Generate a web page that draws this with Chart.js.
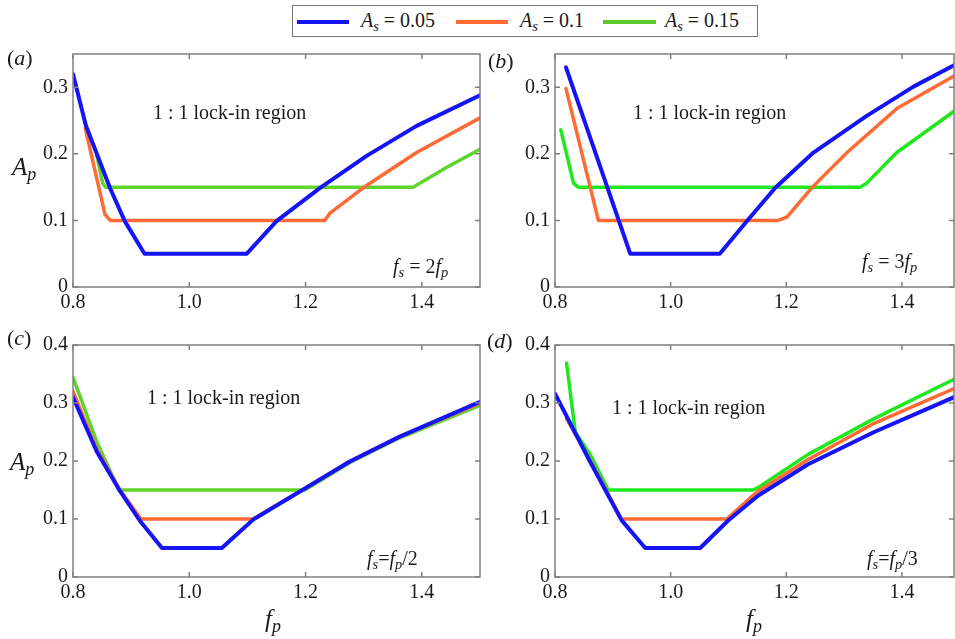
<!DOCTYPE html>
<html>
<head>
<meta charset="utf-8">
<script src="https://cdn.jsdelivr.net/npm/chart.js@4.4.1/dist/chart.umd.min.js"></script>
<style>
  html, body { margin: 0; padding: 0; background: #fff; }
  body { position: relative; width: 955px; height: 639px; overflow: hidden;
         font-family: "Liberation Serif", "Times New Roman", Times, "DejaVu Serif", serif;
         color: #1a1a1a; }
  canvas { position: absolute; }
  .t { position: absolute; white-space: nowrap; line-height: 1; font-size: 20px; }
  .t i { font-style: italic; }
  .t sub { font-size: 0.72em; vertical-align: -0.28em; line-height: 0; }
  .big { font-size: 25px; }
  .lab { font-size: 22px; }
  #legend { position: absolute; left: 292px; top: 5px; width: 464px; height: 30px;
            border: 1.5px solid #777; }
  .sw { position: absolute; height: 4px; top: 14px; }
</style>
</head>
<body>

<div id="legend">
  <div class="sw" style="left:4px;width:52px;background:#1414f5"></div>
  <div class="t" style="left:68px;top:4px"><i>A</i><sub><i>s</i></sub> = 0.05</div>
  <div class="sw" style="left:163px;width:52px;background:#ff6a35"></div>
  <div class="t" style="left:227px;top:4px"><i>A</i><sub><i>s</i></sub> = 0.1</div>
  <div class="sw" style="left:310px;width:53px;background:#5cc82a"></div>
  <div class="t" style="left:372px;top:4px"><i>A</i><sub><i>s</i></sub> = 0.15</div>
</div>

<canvas id="ca"></canvas>
<canvas id="cb"></canvas>
<canvas id="cc"></canvas>
<canvas id="cd"></canvas>

<div class="t lab" style="left:7px;top:47px">(<i>a</i>)</div>
<div class="t lab" style="left:488px;top:50px">(<i>b</i>)</div>
<div class="t lab" style="left:7px;top:327px">(<i>c</i>)</div>
<div class="t lab" style="left:487px;top:330px">(<i>d</i>)</div>

<div class="t big" style="left:12px;top:154px"><i>A</i><sub><i>p</i></sub></div>
<div class="t big" style="left:10px;top:449px"><i>A</i><sub><i>p</i></sub></div>
<div class="t big" style="left:265px;top:606px"><i>f</i><sub><i>p</i></sub></div>
<div class="t big" style="left:746px;top:606px"><i>f</i><sub><i>p</i></sub></div>

<div class="t" style="left:153px;top:102px">1 : 1 lock-in region</div>
<div class="t" style="left:633px;top:102px">1 : 1 lock-in region</div>
<div class="t" style="left:147px;top:387px">1 : 1 lock-in region</div>
<div class="t" style="left:612px;top:397px">1 : 1 lock-in region</div>

<div class="t" style="left:393px;top:256px"><i>f</i><sub><i>s</i></sub> = 2<i>f</i><sub><i>p</i></sub></div>
<div class="t" style="left:862px;top:251px"><i>f</i><sub><i>s</i></sub> = 3<i>f</i><sub><i>p</i></sub></div>
<div class="t" style="left:367px;top:548px"><i>f</i><sub><i>s</i></sub>=<i>f</i><sub><i>p</i></sub>/2</div>
<div class="t" style="left:867px;top:548px"><i>f</i><sub><i>s</i></sub>=<i>f</i><sub><i>p</i></sub>/3</div>

<script>
// valores: f_p (eje X) y A_p (eje Y) para cada A_s

// (a) f_s = 2 f_p
const aBlueFp   = [0.8, 0.822, 0.864, 0.889, 0.923, 1.099, 1.150, 1.225, 1.305, 1.391, 1.5];
const aBlueAp   = [0.32, 0.243, 0.148, 0.099, 0.05, 0.05, 0.099, 0.149, 0.197, 0.242, 0.288];
const aOrangeFp = [0.821, 0.855, 0.864, 1.233, 1.242, 1.299, 1.391, 1.5];
const aOrangeAp = [0.239, 0.109, 0.1, 0.1, 0.111, 0.149, 0.202, 0.254];
const aGreenFp  = [0.841, 0.851, 0.856, 1.385, 1.443, 1.5];
const aGreenAp  = [0.197, 0.156, 0.15, 0.15, 0.180, 0.207];

// (b) f_s = 3 f_p
const bBlueFp   = [0.819, 0.930, 1.085, 1.132, 1.181, 1.247, 1.339, 1.420, 1.49];
const bBlueAp   = [0.330, 0.05, 0.05, 0.099, 0.149, 0.202, 0.257, 0.301, 0.333];
const bOrangeFp = [0.819, 0.875, 1.186, 1.201, 1.244, 1.305, 1.391, 1.49];
const bOrangeAp = [0.298, 0.1, 0.1, 0.105, 0.149, 0.202, 0.268, 0.317];
const bGreenFp  = [0.810, 0.832, 0.840, 1.328, 1.339, 1.391, 1.49];
const bGreenAp  = [0.236, 0.156, 0.15, 0.15, 0.156, 0.202, 0.264];

// (c) f_s = f_p / 2
const cBlueFp   = [0.8, 0.841, 0.881, 0.915, 0.953, 1.056, 1.110, 1.196, 1.276, 1.362, 1.5];
const cBlueAp   = [0.31, 0.216, 0.148, 0.097, 0.05, 0.05, 0.099, 0.151, 0.199, 0.242, 0.302];
const cOrangeFp = [0.8, 0.841, 0.881, 0.917, 1.110, 1.196, 1.276, 1.362, 1.5];
const cOrangeAp = [0.32, 0.22, 0.15, 0.1, 0.1, 0.151, 0.199, 0.242, 0.300];
const cGreenFp  = [0.8, 0.841, 0.879, 1.199, 1.276, 1.362, 1.5];
const cGreenAp  = [0.344, 0.233, 0.15, 0.15, 0.197, 0.240, 0.296];

// (d) f_s = f_p / 3
const dBlueFp   = [0.8, 0.860, 0.915, 0.956, 1.051, 1.099, 1.151, 1.237, 1.352, 1.49];
const dBlueAp   = [0.316, 0.200, 0.098, 0.05, 0.05, 0.097, 0.140, 0.194, 0.250, 0.310];
const dOrangeFp = [0.820, 0.860, 0.915, 1.097, 1.151, 1.237, 1.352, 1.49];
const dOrangeAp = [0.273, 0.203, 0.1, 0.1, 0.148, 0.202, 0.265, 0.325];
const dGreenFp  = [0.820, 0.835, 0.861, 0.892, 1.142, 1.151, 1.237, 1.352, 1.49];
const dGreenAp  = [0.369, 0.250, 0.211, 0.15, 0.15, 0.154, 0.211, 0.273, 0.341];

const fontTicks = {
    family: '"Liberation Serif", "Times New Roman", Times, "DejaVu Serif", serif',
    size: 20
};

// junta los dos arreglos en puntos {x, y}
function puntos(fp, ap) {
    return fp.map((v, i) => ({ x: v, y: ap[i] }));
}

// marco gris y marcas de división hacia adentro, en los cuatro lados
const marco = {
    id: 'marco',
    afterDraw(chart) {
        const { ctx, chartArea: a, scales: { x, y } } = chart;
        ctx.save();
        ctx.strokeStyle = '#808080';
        ctx.lineWidth = 1.5;
        ctx.beginPath();
        x.ticks.forEach(t => {
            const px = x.getPixelForValue(t.value);
            ctx.moveTo(px, a.bottom); ctx.lineTo(px, a.bottom - 5);
            ctx.moveTo(px, a.top); ctx.lineTo(px, a.top + 5);
        });
        y.ticks.forEach(t => {
            const py = y.getPixelForValue(t.value);
            ctx.moveTo(a.left, py); ctx.lineTo(a.left + 5, py);
            ctx.moveTo(a.right, py); ctx.lineTo(a.right - 5, py);
        });
        ctx.stroke();
        ctx.strokeRect(a.left, a.top, a.right - a.left, a.bottom - a.top);
        ctx.restore();
    }
};

function panel(id, left, top, right, bottom, xMax, yMax, green, series) {
    const $c = document.getElementById(id);
    const w = 60 + (right - left) + 8;
    const h = 14 + (bottom - top) + 30;
    $c.width = w; $c.height = h;
    $c.style.left = (left - 60) + 'px';
    $c.style.top = (top - 14) + 'px';

    new Chart($c, {
        type: 'line',
        data: {
            datasets: [
                { label: 'A_s = 0.05', data: puntos(series[0], series[1]), borderColor: '#1414f5', borderWidth: 4 },
                { label: 'A_s = 0.1',  data: puntos(series[2], series[3]), borderColor: '#ff6a35', borderWidth: 3.5 },
                { label: 'A_s = 0.15', data: puntos(series[4], series[5]), borderColor: green, borderWidth: 3.5 },
            ]
        },
        options: {
            responsive: false,
            animation: false,
            layout: { padding: { top: 14, right: 8, left: 0, bottom: 0 } },
            elements: {
                point: { radius: 0 },
                line: { tension: 0, borderCapStyle: 'round', borderJoinStyle: 'round' }
            },
            plugins: { legend: { display: false }, tooltip: { enabled: false } },
            scales: {
                x: {
                    type: 'linear',
                    min: 0.8,
                    max: xMax,
                    afterFit: s => { s.height = 30; },
                    grid: { display: false, drawTicks: false },
                    border: { display: false },
                    ticks: {
                        stepSize: 0.2,
                        includeBounds: false,
                        autoSkip: false,
                        maxRotation: 0,
                        padding: 4,
                        color: '#1a1a1a',
                        font: fontTicks,
                        callback: v => v.toFixed(1)
                    }
                },
                y: {
                    min: 0,
                    max: yMax,
                    afterFit: s => { s.width = 60; },
                    grid: { display: false, drawTicks: false },
                    border: { display: false },
                    ticks: {
                        stepSize: 0.1,
                        includeBounds: false,
                        padding: 5,
                        color: '#1a1a1a',
                        font: fontTicks,
                        callback: v => Math.abs(v) < 1e-9 ? '0' : v.toFixed(1)
                    }
                }
            }
        },
        plugins: [marco]
    });
}

panel('ca', 73, 51, 480, 287, 1.5, 0.35, '#5ed52c',
      [aBlueFp, aBlueAp, aOrangeFp, aOrangeAp, aGreenFp, aGreenAp]);
panel('cb', 555, 51, 954, 287, 1.49, 0.35, '#1fe81f',
      [bBlueFp, bBlueAp, bOrangeFp, bOrangeAp, bGreenFp, bGreenAp]);
panel('cc', 73, 342, 480, 577, 1.5, 0.4, '#5ed52c',
      [cBlueFp, cBlueAp, cOrangeFp, cOrangeAp, cGreenFp, cGreenAp]);
panel('cd', 555, 342, 954, 577, 1.49, 0.4, '#1fe81f',
      [dBlueFp, dBlueAp, dOrangeFp, dOrangeAp, dGreenFp, dGreenAp]);
</script>
</body>
</html>
